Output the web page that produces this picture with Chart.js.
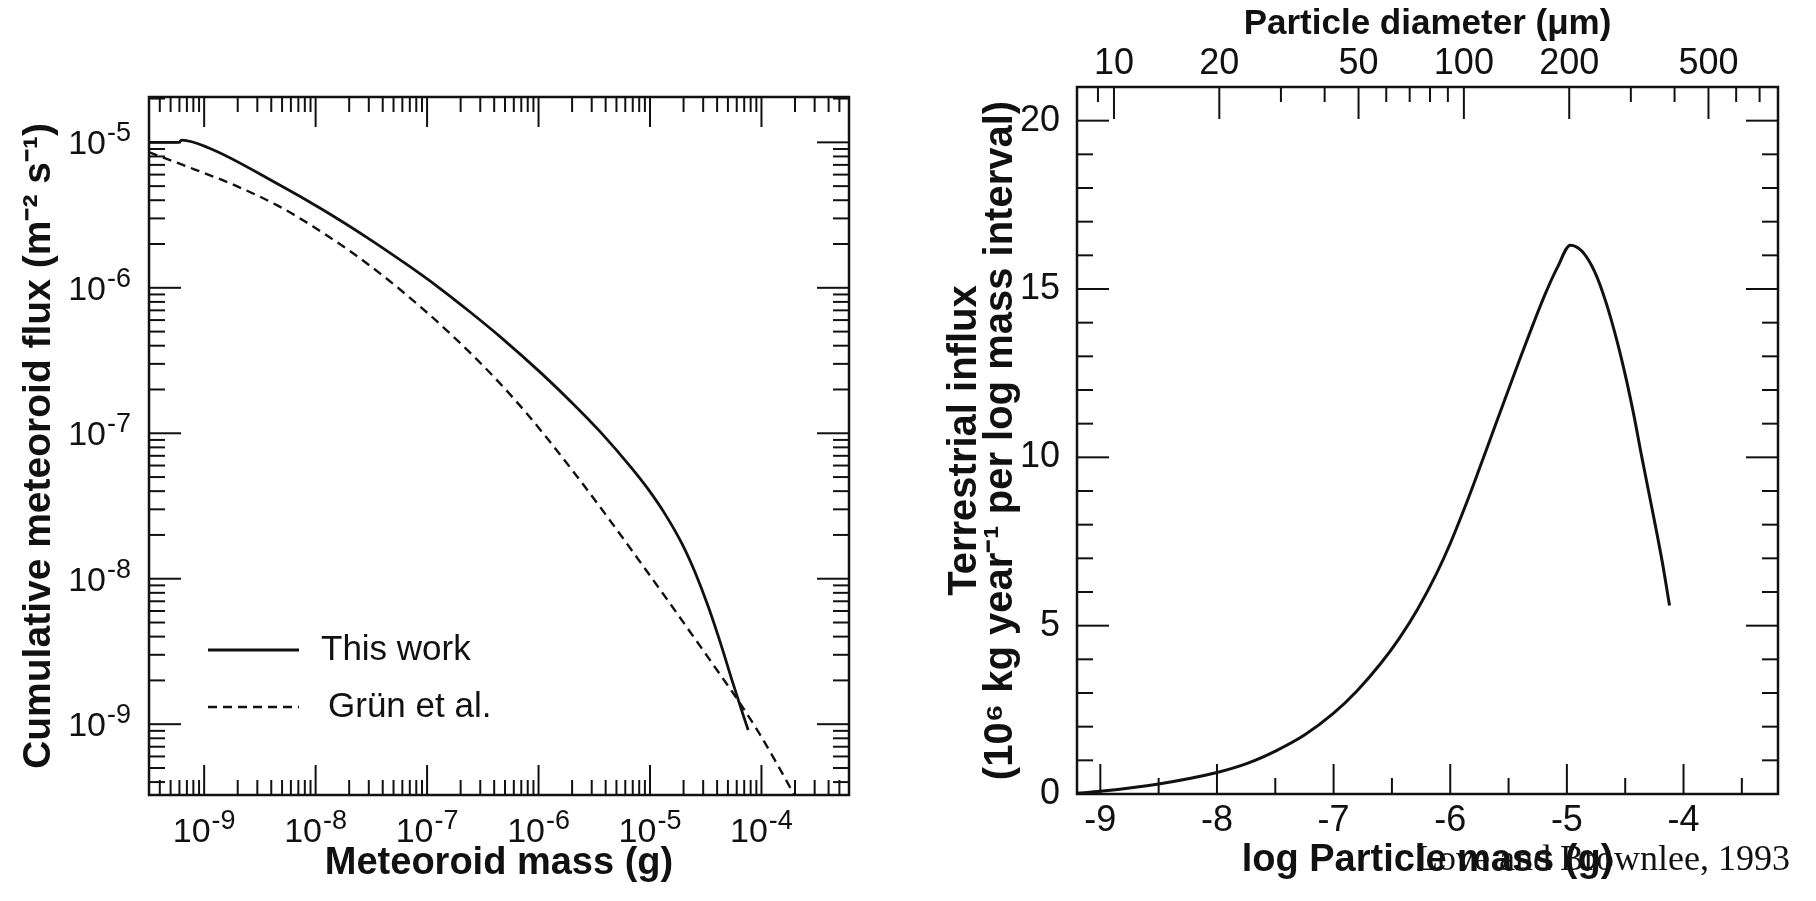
<!DOCTYPE html>
<html>
<head>
<meta charset="utf-8">
<script src="https://cdn.jsdelivr.net/npm/chart.js@4.4.1/dist/chart.umd.min.js"></script>
<style>
  html, body { margin: 0; padding: 0; background: #fff; }
  body { width: 1816px; height: 901px; position: relative; overflow: hidden; }
  #left  { position: absolute; left: 0;     top: 0; width: 908px; height: 901px; }
  #right { position: absolute; left: 908px; top: 0; width: 908px; height: 901px; }
</style>
</head>
<body>
<div id="left"><canvas id="fluxChart"></canvas></div>
<div id="right"><canvas id="influxChart"></canvas></div>
<script>
// ---------------- data: left panel (cumulative flux vs mass) ----------------
const seriesNames = ['This work', 'Grün et al.'];
const thisWorkMass = [3.19e-10, 5.89e-10, 6.31e-10, 1.09e-9, 4.50e-9, 1.16e-8, 2.99e-8, 6.38e-8, 1.24e-7, 2.40e-7, 4.65e-7, 1.08e-6, 2.10e-6, 3.55e-6, 6.76e-6, 9.62e-6, 1.37e-5, 1.96e-5, 2.52e-5, 3.36e-5, 4.47e-5, 5.40e-5, 6.52e-5, 7.60e-5];
const thisWorkFlux = [1.0e-5, 1.0e-5, 1.035e-5, 9.18e-6, 5.21e-6, 3.44e-6, 2.18e-6, 1.47e-6, 1.02e-6, 6.87e-7, 4.53e-7, 2.55e-7, 1.56e-7, 1.03e-7, 5.83e-8, 4.13e-8, 2.77e-8, 1.71e-8, 1.12e-8, 6.31e-9, 3.27e-9, 2.04e-9, 1.30e-9, 9.12e-10];
const grunMass = [3.19e-10, 8.15e-10, 1.74e-9, 4.49e-9, 9.57e-9, 2.46e-8, 6.34e-8, 1.63e-7, 4.19e-7, 7.76e-7, 1.16e-6, 2.19e-6, 4.09e-6, 7.69e-6, 1.30e-5, 2.30e-5, 4.06e-5, 6.52e-5, 9.53e-5, 1.39e-4, 1.80e-4, 1.95e-4];
const grunFlux = [8.57e-6, 6.53e-6, 5.20e-6, 3.70e-6, 2.63e-6, 1.61e-6, 9.12e-7, 4.80e-7, 2.34e-7, 1.38e-7, 9.50e-8, 5.11e-8, 2.70e-8, 1.39e-8, 7.94e-9, 4.29e-9, 2.31e-9, 1.37e-9, 8.67e-10, 5.28e-10, 3.70e-10, 3.31e-10];
const massDecadeExponents = [-9, -8, -7, -6, -5, -4];
const fluxDecadeExponents = [-9, -8, -7, -6, -5];
const massRange = [3.2e-10, 6.1e-4];
const fluxRange = [3.26e-10, 2.05e-5];

// ---------------- data: right panel (terrestrial influx) ----------------
const logMass = [-9.2, -9.0, -8.5, -8.0, -7.74, -7.49, -7.25, -7.0, -6.8, -6.6, -6.44, -6.28, -6.12, -6.0, -5.87, -5.76, -5.64, -5.52, -5.40, -5.29, -5.18, -5.08, -4.97, -4.87, -4.76, -4.66, -4.57, -4.49, -4.42, -4.36, -4.30, -4.24, -4.18, -4.12];
const influx = [0.02, 0.08, 0.30, 0.64, 0.91, 1.29, 1.75, 2.40, 3.06, 3.86, 4.61, 5.49, 6.53, 7.44, 8.56, 9.57, 10.7, 11.83, 12.95, 13.95, 14.9, 15.65, 16.3, 16.12, 15.5, 14.55, 13.45, 12.3, 11.15, 10.05, 9.0, 7.95, 6.85, 5.6];
const logMassTicks = [-9, -8, -7, -6, -5, -4];
const influxTicks = [0, 5, 10, 15, 20];
const diameterTicks = [10, 20, 50, 100, 200, 500];          // µm, labelled
const diameterMinorTicks = [9, 30, 40, 60, 70, 80, 90, 300, 400, 600, 700];
const logMassRange = [-9.2, -3.19];
const influxRange = [0, 21];
const PARTICLE_DENSITY = 2.5; // g cm^-3, relates diameter axis to mass axis
const citation = 'Love and Brownlee, 1993';

// ---------------- helpers ----------------
const INK = '#111111';
const SANS = "'Liberation Sans', Arial, Helvetica, sans-serif";
const SERIF = "'Liberation Serif', 'Times New Roman', serif";
Chart.defaults.font.family = SANS;
Chart.defaults.color = INK;

const SUP = {'-':'⁻','0':'⁰','1':'¹','2':'²','3':'³','4':'⁴','5':'⁵','6':'⁶','7':'⁷','8':'⁸','9':'⁹'};
const sup = n => String(n).split('').map(c => SUP[c]).join('');
const logMassOfDiameter = d => Math.log10(PARTICLE_DENSITY * Math.PI / 6 * Math.pow(d * 1e-4, 3));

function logTickMarks(scale, lo, hi, majorLen, minorLen, sides) {
  const out = [];
  for (let e = lo; e <= hi; e++) for (let k = 1; k <= 9; k++)
    out.push(Object.assign({ scale, value: k * Math.pow(10, e), len: k === 1 ? majorLen : minorLen }, sides));
  return out;
}

const framePlugin = {
  id: 'frame',
  afterDraw(chart, args, o) {
    const { ctx, chartArea: a } = chart;
    ctx.save();
    ctx.strokeStyle = INK;
    ctx.lineCap = 'butt';
    ctx.lineWidth = o.tickWidth;
    const seg = (x1, y1, x2, y2) => { ctx.beginPath(); ctx.moveTo(x1, y1); ctx.lineTo(x2, y2); ctx.stroke(); };
    (o.h || []).forEach(t => {
      const px = chart.scales[t.scale].getPixelForValue(t.value);
      if (px < a.left + 1 || px > a.right - 1) return;
      if (t.bottom) seg(px, a.bottom, px, a.bottom - t.len);
      if (t.top) seg(px, a.top, px, a.top + t.len);
    });
    (o.v || []).forEach(t => {
      const py = chart.scales[t.scale].getPixelForValue(t.value);
      if (py < a.top + 1 || py > a.bottom - 1) return;
      seg(a.left, py, a.left + t.len, py);
      seg(a.right, py, a.right - t.len, py);
    });
    ctx.lineWidth = o.frameWidth;
    ctx.strokeRect(a.left, a.top, a.right - a.left, a.bottom - a.top);
    ctx.restore();
  }
};

// power-of-ten tick labels with a real raised exponent
const powerLabelPlugin = {
  id: 'powerLabels',
  afterDraw(chart, args, o) {
    if (!o.axes) return;
    const { ctx, chartArea: a } = chart;
    ctx.save();
    ctx.fillStyle = INK;
    ctx.textBaseline = 'alphabetic';
    ctx.textAlign = 'left';
    const mainFont = o.size + 'px ' + SANS, expFont = o.expSize + 'px ' + SANS;
    const draw = (e, x, y, align) => {
      const es = String(e);
      ctx.font = mainFont; const w1 = ctx.measureText('10').width;
      ctx.font = expFont;  const w2 = ctx.measureText(es).width;
      const total = w1 + o.gap + w2;
      const left = align === 'right' ? x - total : x - total / 2;
      ctx.font = mainFont; ctx.fillText('10', left, y);
      ctx.font = expFont;  ctx.fillText(es, left + w1 + o.gap, y - o.raise);
    };
    o.axes.forEach(ax => {
      const sc = chart.scales[ax.scale];
      sc.ticks.forEach((t, i) => {
        const p = sc.getPixelForValue(t.value);
        if (sc.isHorizontal()) draw(ax.exponents[i], p, a.bottom + ax.offset, 'center');
        else draw(ax.exponents[i], a.left - ax.offset, p + ax.baselineShift, 'right');
      });
    });
    ctx.restore();
  }
};

const insetLegendPlugin = {
  id: 'insetLegend',
  afterDraw(chart, args, o) {
    if (!o.rows) return;
    const { ctx, chartArea: a } = chart;
    ctx.save();
    chart.data.datasets.forEach((ds, i) => {
      const y = a.top + o.rows[i];
      ctx.strokeStyle = ds.borderColor;
      ctx.lineWidth = ds.borderWidth;
      ctx.setLineDash(ds.borderDash || []);
      ctx.beginPath(); ctx.moveTo(a.left + o.x0, y); ctx.lineTo(a.left + o.x1, y); ctx.stroke();
      ctx.setLineDash([]);
      ctx.fillStyle = INK;
      ctx.font = o.font;
      ctx.textBaseline = 'middle';
      ctx.textAlign = 'left';
      ctx.fillText(ds.label, a.left + o.tx[i], y);
    });
    ctx.restore();
  }
};

const captionPlugin = {
  id: 'caption',
  afterDraw(chart, args, o) {
    if (!o.text) return;
    const ctx = chart.ctx;
    ctx.save();
    ctx.font = o.font;
    ctx.fillStyle = INK;
    ctx.textBaseline = 'alphabetic';
    ctx.textAlign = 'left';
    ctx.fillText(o.text, o.x, o.y);
    ctx.restore();
  }
};

const tickFont = { size: 36, family: SANS };
const titleFont = { size: 38, weight: 'bold', family: SANS };

// ---------------- left chart ----------------
new Chart(document.getElementById('fluxChart'), {
  type: 'line',
  data: {
    datasets: [
      { label: seriesNames[0], data: thisWorkMass.map((m, i) => ({ x: m, y: thisWorkFlux[i] })),
        borderColor: INK, borderWidth: 2.8, pointRadius: 0, cubicInterpolationMode: 'monotone', fill: false },
      { label: seriesNames[1], data: grunMass.map((m, i) => ({ x: m, y: grunFlux[i] })),
        borderColor: INK, borderWidth: 2.4, borderDash: [9, 6], pointRadius: 0, cubicInterpolationMode: 'monotone', fill: false }
    ]
  },
  options: {
    responsive: true, maintainAspectRatio: false, animation: false, devicePixelRatio: 1,
    layout: { padding: { left: 0, right: 59, top: 97, bottom: 0 } },
    plugins: {
      legend: { display: false }, tooltip: { enabled: false },
      insetLegend: { rows: [553, 610], x0: 59, x1: 150, tx: [172, 179], font: "35px " + SANS },
      powerLabels: {
        size: 34, expSize: 27, gap: 1, raise: 13,
        axes: [
          { scale: 'x', exponents: massDecadeExponents, offset: 47 },
          { scale: 'y', exponents: fluxDecadeExponents, offset: 18, baselineShift: 12 }
        ]
      },
      frame: {
        frameWidth: 2.5, tickWidth: 2,
        h: logTickMarks('x', -10, -4, 30, 15, { top: true, bottom: true }),
        v: logTickMarks('y', -10, -5, 32, 16, {})
      }
    },
    scales: {
      x: {
        type: 'logarithmic', position: 'bottom', min: massRange[0], max: massRange[1],
        afterBuildTicks: s => { s.ticks = massDecadeExponents.map(e => ({ value: Math.pow(10, e) })); },
        afterFit: s => { s.height = 106; },
        grid: { display: false, drawTicks: false }, border: { display: false },
        ticks: { display: false, autoSkip: false, maxRotation: 0 },
        title: { display: true, text: 'Meteoroid mass (g)', font: titleFont, color: INK, padding: { top: 0, bottom: 15 } }
      },
      y: {
        type: 'logarithmic', position: 'left', min: fluxRange[0], max: fluxRange[1],
        afterBuildTicks: s => { s.ticks = fluxDecadeExponents.map(e => ({ value: Math.pow(10, e) })); },
        afterFit: s => { s.width = 149; },
        grid: { display: false, drawTicks: false }, border: { display: false },
        ticks: { display: false, autoSkip: false },
        title: { display: true, text: 'Cumulative meteoroid flux (m' + sup(-2) + ' s' + sup(-1) + ')',
                 font: { size: 39, weight: 'bold', family: SANS }, color: INK, padding: { top: 16, bottom: 0 } }
      }
    }
  },
  plugins: [framePlugin, powerLabelPlugin, insetLegendPlugin]
});

// ---------------- right chart ----------------
const diameterMarks = [];
diameterTicks.forEach(d => diameterMarks.push({ scale: 'x2', value: logMassOfDiameter(d), len: 32, top: true }));
diameterMinorTicks.forEach(d => diameterMarks.push({ scale: 'x2', value: logMassOfDiameter(d), len: 15, top: true }));
const bottomMarks = [];
for (let v = -9; v <= -3.5; v += 0.5) bottomMarks.push({ scale: 'x', value: v, len: Number.isInteger(v) ? 30 : 16, bottom: true });
const leftMarks = [];
for (let v = 0; v <= 21; v += 1) leftMarks.push({ scale: 'y', value: v, len: v % 5 === 0 ? 32 : 16 });

new Chart(document.getElementById('influxChart'), {
  type: 'line',
  data: {
    datasets: [
      { label: 'Terrestrial influx', data: logMass.map((m, i) => ({ x: m, y: influx[i] })),
        borderColor: INK, borderWidth: 3, pointRadius: 0, cubicInterpolationMode: 'monotone', fill: false }
    ]
  },
  options: {
    responsive: true, maintainAspectRatio: false, animation: false, devicePixelRatio: 1,
    layout: { padding: { left: 0, right: 38, top: 0, bottom: 0 } },
    plugins: {
      legend: { display: false }, tooltip: { enabled: false },
      caption: { text: citation, x: 508, y: 870, font: "36px " + SERIF },
      frame: { frameWidth: 2.5, tickWidth: 2, h: diameterMarks.concat(bottomMarks), v: leftMarks }
    },
    scales: {
      x: {
        type: 'linear', position: 'bottom', min: logMassRange[0], max: logMassRange[1],
        afterBuildTicks: s => { s.ticks = logMassTicks.map(v => ({ value: v })); },
        afterFit: s => { s.height = 107; },
        grid: { display: false, drawTicks: false }, border: { display: false },
        ticks: { font: tickFont, color: INK, padding: 5, autoSkip: false, maxRotation: 0,
                 callback: (v, i) => String(logMassTicks[i]) },
        title: { display: true, text: 'log Particle mass (g)', font: titleFont, color: INK, padding: { top: 0, bottom: 18 } }
      },
      x2: {
        type: 'linear', position: 'top', min: logMassRange[0], max: logMassRange[1],
        afterBuildTicks: s => { s.ticks = diameterTicks.map(d => ({ value: logMassOfDiameter(d) })); },
        afterFit: s => { s.height = 87; },
        grid: { display: false, drawTicks: false }, border: { display: false },
        ticks: { font: tickFont, color: INK, padding: 1, autoSkip: false, maxRotation: 0,
                 callback: (v, i) => String(diameterTicks[i]) },
        title: { display: true, text: 'Particle diameter (μm)', font: { size: 35, weight: 'bold', family: SANS },
                 color: INK, padding: { top: 3, bottom: 0 } }
      },
      y: {
        type: 'linear', position: 'left', min: influxRange[0], max: influxRange[1],
        afterBuildTicks: s => { s.ticks = influxTicks.map(v => ({ value: v })); },
        afterFit: s => { s.width = 169; },
        grid: { display: false, drawTicks: false }, border: { display: false },
        ticks: { font: tickFont, color: INK, padding: 17, autoSkip: false,
                 callback: (v, i) => String(influxTicks[i]) },
        title: { display: true,
                 text: ['Terrestrial influx', '(10' + sup(6) + ' kg year' + sup(-1) + ' per log mass interval)'],
                 font: { size: 40, weight: 'bold', family: SANS, lineHeight: '36px' }, color: INK,
                 padding: { top: 39, bottom: 0 } }
      }
    }
  },
  plugins: [framePlugin, captionPlugin]
});
</script>
</body>
</html>
